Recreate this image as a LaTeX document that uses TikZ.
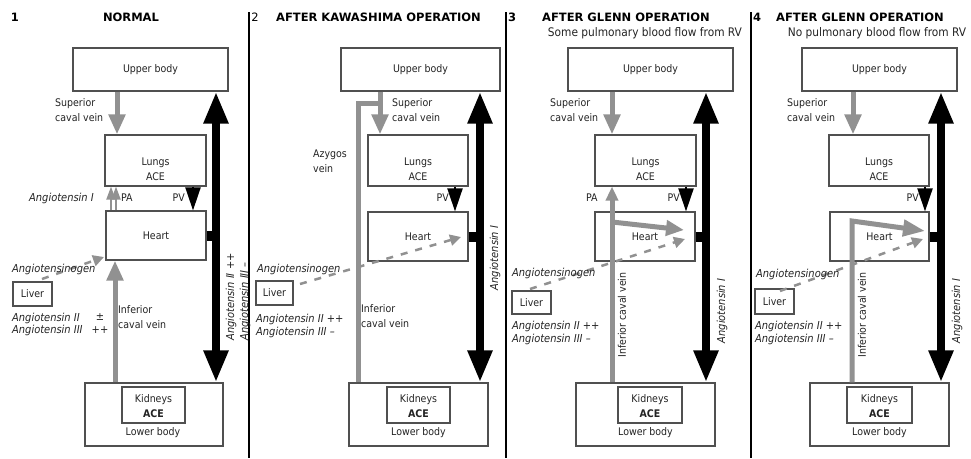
\documentclass[tikz,border=0pt]{standalone}
\usepackage{fontspec}
\setmainfont{DejaVu Sans Condensed}
\newfontfamily\widefont{DejaVu Sans}
\usetikzlibrary{arrows.meta}
\definecolor{gcol}{RGB}{145,145,145}
\definecolor{boxc}{RGB}{80,80,80}
\definecolor{txtc}{RGB}{35,35,35}
\begin{document}
\begin{tikzpicture}[x=1pt,y=-1pt,
  box/.style={draw=boxc, line width=1.1pt, inner sep=0pt},
  txt/.style={font=\fontsize{10.5}{15}\selectfont, text=txtc, inner sep=0pt},
  itl/.style={font=\fontsize{11}{12.5}\selectfont\itshape, text=txtc, inner sep=0pt},
  ttl/.style={font=\widefont\bfseries\fontsize{11.5}{13}\selectfont, inner sep=0pt},
  sub/.style={font=\fontsize{11.8}{13}\selectfont, text=txtc, inner sep=0pt},
  gar/.style={draw=gcol, line width=5pt, -{Triangle[width=16pt,length=20pt]}},
  gline/.style={draw=gcol, line width=5pt},
  blk/.style={line width=8pt, {Triangle[width=23pt,length=32pt]}-{Triangle[width=23pt,length=32pt]}},
  pvar/.style={line width=2pt, -{Triangle[width=15pt,length=23pt]}},
  dsh/.style={draw=gcol, line width=2.5pt, dash pattern=on 7pt off 8pt, -{Triangle[width=11pt,length=11pt]}},
  stub/.style={line width=10pt},
  sep/.style={line width=2pt}]
\useasboundingbox (0,0) rectangle (971,458);

% separators
\coordinate (s1a) at (249,12); \coordinate (s1b) at (249,458);
\coordinate (s2a) at (506,12); \coordinate (s2b) at (506,458);
\coordinate (s3a) at (751,12); \coordinate (s3b) at (751,458);
\draw[sep] (s1a) -- (s1b);
\draw[sep] (s2a) -- (s2b);
\draw[sep] (s3a) -- (s3b);

% ================= PANEL 1 =================
\node[ttl] (n1) at (15,17) {1};
\node[ttl] (t1) at (131,17) {NORMAL};
\node[box, minimum width=155, minimum height=43] (ub1) at (150.5,69.5) {};
\node[txt] at (ub1) {Upper body};
\node[box, minimum width=101, minimum height=51] (lu1) at (155.5,160.5) {};
\node[txt, align=center] at (155.5,169.5) {Lungs\\ACE};
\node[box, minimum width=100, minimum height=49] (he1) at (156,235.5) {};
\node[txt] at (he1) {Heart};
\node[box, minimum width=138, minimum height=63] (lb1) at (154,414.5) {};
\node[box, minimum width=63, minimum height=36] (kd1) at (153.5,405) {};
\node[txt, align=center] at (153.5,406) {Kidneys\\\textbf{ACE}};
\node[txt] at (153,433) {Lower body};
\node[box, minimum width=39, minimum height=24] (li1) at (32.5,294) {};
\node[txt] at (li1) {Liver};

\coordinate (b1) at (216,0);
\coordinate (sv1) at (117,0);
\coordinate (iv1) at (115,0);
\coordinate (pv1) at (193,0);
\coordinate (pa1a) at (111,0);
\coordinate (pa1b) at (116,0);
\coordinate (ds1) at (42,279);
\coordinate (dt1) at (104,257);

\draw[blk] (ub1.south -| b1) -- (lb1.north -| b1);
\draw[stub] (he1.east) -- (he1.east -| b1);
\draw[gar] (ub1.south -| sv1) -- (lu1.north -| sv1);
\draw[gar] (lb1.north -| iv1) -- (he1.south -| iv1);
\draw[pvar] (lu1.south -| pv1) -- (he1.north -| pv1);
\draw[draw=gcol, line width=2pt, -{Triangle[width=9pt,length=13pt]}] (he1.north -| pa1a) -- (lu1.south -| pa1a);
\draw[draw=gcol, line width=2pt, -{Triangle[width=9pt,length=13pt]}] (he1.north -| pa1b) -- (lu1.south -| pa1b);
\draw[dsh] (ds1) -- (dt1);

\node[txt, align=left, anchor=west] at (55,110.5) {Superior\\caval vein};
\node[itl, anchor=east] at (94,198) {Angiotensin I};
\node[txt, anchor=west] at (121,198) {PA};
\node[txt, anchor=east] at (185,198) {PV};
\node[itl, anchor=west] at (12,269) {Angiotensinogen};
\node[itl, anchor=west] at (12,318) {Angiotensin II};
\node[itl] at (100,317) {±};
\node[itl, anchor=west] at (12,330) {Angiotensin III};
\node[itl] at (100,330) {++};
\node[txt, align=left, anchor=west] at (118,317) {Inferior\\caval vein};
\node[itl, rotate=90, align=left, font=\fontsize{11}{14}\selectfont\itshape] at (238,297) {Angiotensin II ++\\Angiotensin III –};

% ================= PANEL 2 =================
\node[font=\widefont\fontsize{11.5}{13}\selectfont, inner sep=0pt] (n2) at (255,17) {2};
\node[ttl] (t2) at (378.5,17) {AFTER KAWASHIMA OPERATION};
\node[box, minimum width=159, minimum height=43] (ub2) at (420.5,69.5) {};
\node[txt] at (ub2) {Upper body};
\node[box, minimum width=100, minimum height=51] (lu2) at (418,160.5) {};
\node[txt, align=center] at (418,169.5) {Lungs\\ACE};
\node[box, minimum width=100, minimum height=49] (he2) at (418,236.5) {};
\node[txt] at (he2) {Heart};
\node[box, minimum width=139, minimum height=63] (lb2) at (418.5,414.5) {};
\node[box, minimum width=63, minimum height=36] (kd2) at (418.5,405) {};
\node[txt, align=center] at (418.5,406) {Kidneys\\\textbf{ACE}};
\node[txt] at (418.5,433) {Lower body};
\node[box, minimum width=37, minimum height=24] (li2) at (274.5,293) {};
\node[txt] at (li2) {Liver};

\coordinate (b2) at (480,0);
\coordinate (sv2) at (380,0);
\coordinate (az2) at (358,0);
\coordinate (j2) at (380,103);
\coordinate (pv2) at (455,0);
\coordinate (ds2) at (300,284);
\coordinate (dt2) at (461,237);

\draw[blk] (ub2.south -| b2) -- (lb2.north -| b2);
\draw[stub] (he2.east) -- (he2.east -| b2);
\draw[gline] (lb2.north -| az2) -- (az2 |- j2) -- (j2);
\draw[gar] (ub2.south -| sv2) -- (lu2.north -| sv2);
\draw[pvar] (lu2.south -| pv2) -- (he2.north -| pv2);
\draw[dsh] (ds2) -- (dt2);

\node[txt, align=left, anchor=west] at (392,110.5) {Superior\\caval vein};
\node[txt, align=left, anchor=west] at (313,161) {Azygos\\vein};
\node[txt, anchor=east] at (449,198) {PV};
\node[itl, anchor=west] at (257,269) {Angiotensinogen};
\node[itl, align=left, anchor=west] at (256,326) {Angiotensin II ++\\Angiotensin III –};
\node[txt, align=left, anchor=west] at (361,316.5) {Inferior\\caval vein};
\node[itl, rotate=90] at (495,258) {Angiotensin I};

% ================= PANEL 3 =================
\node[ttl] (n3) at (512,17) {3};
\node[ttl] (t3) at (626,17) {AFTER GLENN OPERATION};
\node[sub] at (645,33) {Some pulmonary blood flow from RV};
\node[box, minimum width=165, minimum height=43] (ub3) at (650.5,69.5) {};
\node[txt] at (ub3) {Upper body};
\node[box, minimum width=101, minimum height=51] (lu3) at (645.5,160.5) {};
\node[txt, align=center] at (645.5,169.5) {Lungs\\ACE};
\node[box, minimum width=100, minimum height=49] (he3) at (645,236.5) {};
\node[txt] at (he3) {Heart};
\node[box, minimum width=139, minimum height=63] (lb3) at (645.5,414.5) {};
\node[box, minimum width=64, minimum height=36] (kd3) at (650,405) {};
\node[txt, align=center] at (650,406) {Kidneys\\\textbf{ACE}};
\node[txt] at (645.5,433) {Lower body};
\node[box, minimum width=39, minimum height=23] (li3) at (531.5,302.5) {};
\node[txt] at (li3) {Liver};

\coordinate (b3) at (706,0);
\coordinate (sv3) at (612,0);
\coordinate (iv3) at (612,0);
\coordinate (br3) at (612,222);
\coordinate (ht3) at (684,230);
\coordinate (pv3) at (686,0);
\coordinate (ds3) at (530,289);
\coordinate (dt3) at (685,239);

\draw[blk] (ub3.south -| b3) -- (lb3.north -| b3);
\draw[stub] (he3.east) -- (he3.east -| b3);
\draw[gar] (ub3.south -| sv3) -- (lu3.north -| sv3);
\draw[gline, -{Triangle[width=12pt,length=14pt]}] (lb3.north -| iv3) -- (lu3.south -| iv3);
\draw[gline, -{Triangle[width=15pt,length=18pt]}] (br3) -- (ht3);
\draw[pvar] (lu3.south -| pv3) -- (he3.north -| pv3);
\draw[dsh] (ds3) -- (dt3);

\node[txt, align=left, anchor=west] at (550,110.5) {Superior\\caval vein};
\node[txt, anchor=west] at (586,198) {PA};
\node[txt, anchor=east] at (680,198) {PV};
\node[itl, anchor=west] at (512,273) {Angiotensinogen};
\node[itl, align=left, anchor=west] at (512,333) {Angiotensin II ++\\Angiotensin III –};
\node[txt, rotate=90] at (622,315) {Inferior caval vein};
\node[itl, rotate=90] at (722,311) {Angiotensin I};

% ================= PANEL 4 =================
\node[ttl] (n4) at (757,17) {4};
\node[ttl] (t4) at (860,17) {AFTER GLENN OPERATION};
\node[sub] at (877,33) {No pulmonary blood flow from RV};
\node[box, minimum width=155, minimum height=43] (ub4) at (879.5,69.5) {};
\node[txt] at (ub4) {Upper body};
\node[box, minimum width=100, minimum height=51] (lu4) at (879,160.5) {};
\node[txt, align=center] at (879,169.5) {Lungs\\ACE};
\node[box, minimum width=99, minimum height=49] (he4) at (879.5,236.5) {};
\node[txt] at (he4) {Heart};
\node[box, minimum width=139, minimum height=63] (lb4) at (879.5,414.5) {};
\node[box, minimum width=65, minimum height=36] (kd4) at (879.5,405) {};
\node[txt, align=center] at (879.5,406) {Kidneys\\\textbf{ACE}};
\node[txt] at (879.5,433) {Lower body};
\node[box, minimum width=39, minimum height=25] (li4) at (774.5,301.5) {};
\node[txt] at (li4) {Liver};

\coordinate (b4) at (941,0);
\coordinate (sv4) at (853,0);
\coordinate (iv4) at (852,0);
\coordinate (c4) at (852,221);
\coordinate (ht4) at (925,231);
\coordinate (pv4) at (925,0);
\coordinate (ds4) at (780,291);
\coordinate (dt4) at (923,239);

\draw[blk] (ub4.south -| b4) -- (lb4.north -| b4);
\draw[stub] (he4.east) -- (he4.east -| b4);
\draw[gar] (ub4.south -| sv4) -- (lu4.north -| sv4);
\draw[gline, -{Triangle[width=16pt,length=22pt]}] (lb4.north -| iv4) -- (c4) -- (ht4);
\draw[pvar] (lu4.south -| pv4) -- (he4.north -| pv4);
\draw[dsh] (ds4) -- (dt4);

\node[txt, align=left, anchor=west] at (787,110.5) {Superior\\caval vein};
\node[txt, anchor=east] at (919,198) {PV};
\node[itl, anchor=west] at (756,274) {Angiotensinogen};
\node[itl, align=left, anchor=west] at (755,333) {Angiotensin II ++\\Angiotensin III –};
\node[txt, rotate=90] at (862,315) {Inferior caval vein};
\node[itl, rotate=90] at (957,311) {Angiotensin I};
\end{tikzpicture}
\end{document}
